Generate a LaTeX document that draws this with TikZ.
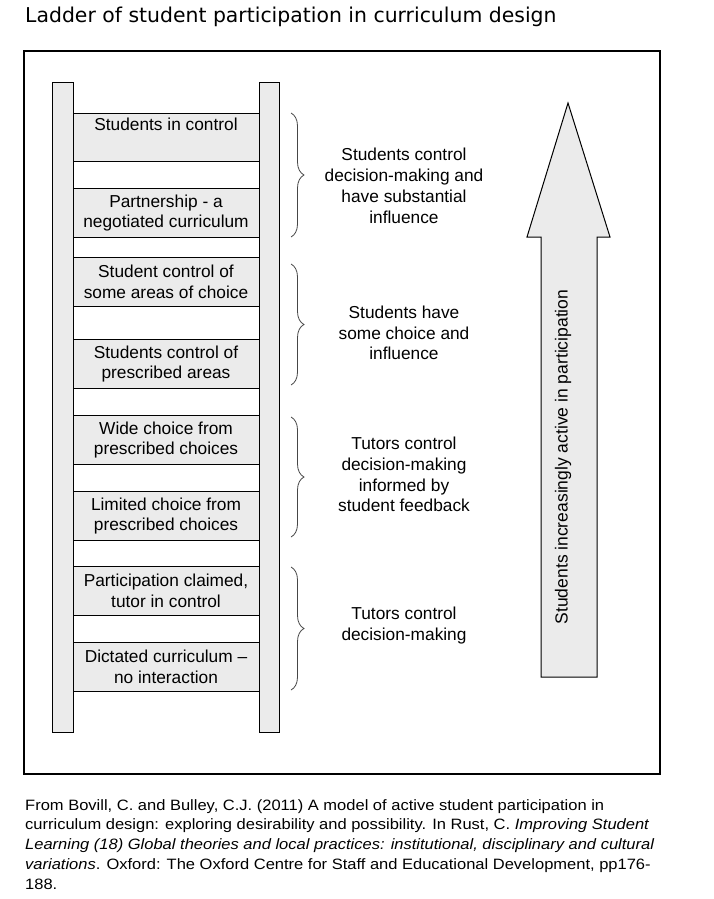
\documentclass[tikz,border=0pt]{standalone}
\usepackage{fontspec}
\setmainfont{Liberation Sans}
\newfontfamily\titlefont{DejaVu Sans}
\newfontfamily\footfont[FakeStretch=1.1]{Liberation Sans}
\usetikzlibrary{decorations.pathreplacing}
\definecolor{ladfill}{RGB}{235,235,235}
\definecolor{bracegray}{RGB}{70,70,70}
\begin{document}
\begin{tikzpicture}[x=1pt,y=-1pt,
  rail/.style={draw=black, line width=1pt, fill=ladfill, minimum width=20.5pt, minimum height=650pt, inner sep=0pt},
  rung/.style={draw=black, line width=1pt, fill=ladfill, minimum width=186pt, minimum height=48.5pt, inner sep=0pt, align=center, font=\fontsize{17.3}{20.8}\selectfont},
  grouptext/.style={align=center, inner sep=0pt, font=\fontsize{17.3}{20.8}\selectfont},
  bracepath/.style={decorate, decoration={brace, amplitude=13pt}, draw=bracegray, line width=0.8pt}]
\useasboundingbox (0,0) rectangle (713,899);
% title
\node[anchor=base west, inner sep=0pt, font=\titlefont\fontsize{20.4}{24}\selectfont] (title) at (25,23) {Ladder of student participation in curriculum design};
% frame
\node[draw=black, line width=1.1pt, minimum width=636pt, minimum height=723pt, inner sep=0pt] (frame) at (342,412.5) {};
% rails
\node[rail] (lrail) at (63,407) {};
\node[rail] (rrail) at (269.5,407) {};
% rungs
\node[rung] (r1) at (166,137.5) {Students in control\\\strut};
\node[rung] (r2) at (166,213) {Partnership - a\\negotiated curriculum};
\node[rung] (r3) at (166,282) {Student control of\\some areas of choice};
\node[rung] (r4) at (166,364) {Students control of\\prescribed areas};
\node[rung] (r5) at (166,440) {Wide choice from\\prescribed choices};
\node[rung] (r6) at (166,516) {Limited choice from\\prescribed choices};
\node[rung] (r7) at (166,591) {Participation claimed,\\tutor in control};
\node[rung] (r8) at (166,667) {Dictated curriculum --\\no interaction};
% braces
\draw[bracepath] (291,113) -- (291,237);
\draw[bracepath] (291,264) -- (291,385);
\draw[bracepath] (291,417) -- (291,537);
\draw[bracepath] (291,567) -- (291,690);
% group texts
\node[grouptext] (g1) at (404,186) {Students control\\decision-making and\\have substantial\\influence};
\node[grouptext] (g2) at (404,333) {Students have\\some choice and\\influence};
\node[grouptext] (g3) at (404,474.5) {Tutors control\\decision-making\\informed by\\student feedback};
\node[grouptext] (g4) at (404,625.5) {Tutors control\\decision-making};
% arrow
\draw[fill=ladfill, line width=1pt, line join=miter] (568,103) -- (610,237) -- (597,237) -- (597,677) -- (541,677) -- (541,237) -- (527,237) -- cycle;
\node[rotate=90, inner sep=0pt, font=\fontsize{17.5}{21}\selectfont] (arrowtxt) at (563,457) {Students increasingly active in participation};
% source
\node[anchor=base west, align=left, inner sep=0pt, font=\footfont\fontsize{15}{19.7}\selectfont] (source) at (25,889) {From Bovill, C. and Bulley, C.J. (2011) A model of active student participation in\\
curriculum design: exploring desirability and possibility. In Rust, C. \textit{Improving Student}\\
\textit{Learning (18) Global theories and local practices: institutional, disciplinary and cultural}\\
\textit{variations}. Oxford: The Oxford Centre for Staff and Educational Development, pp176-\\
188.};
\end{tikzpicture}
\end{document}
